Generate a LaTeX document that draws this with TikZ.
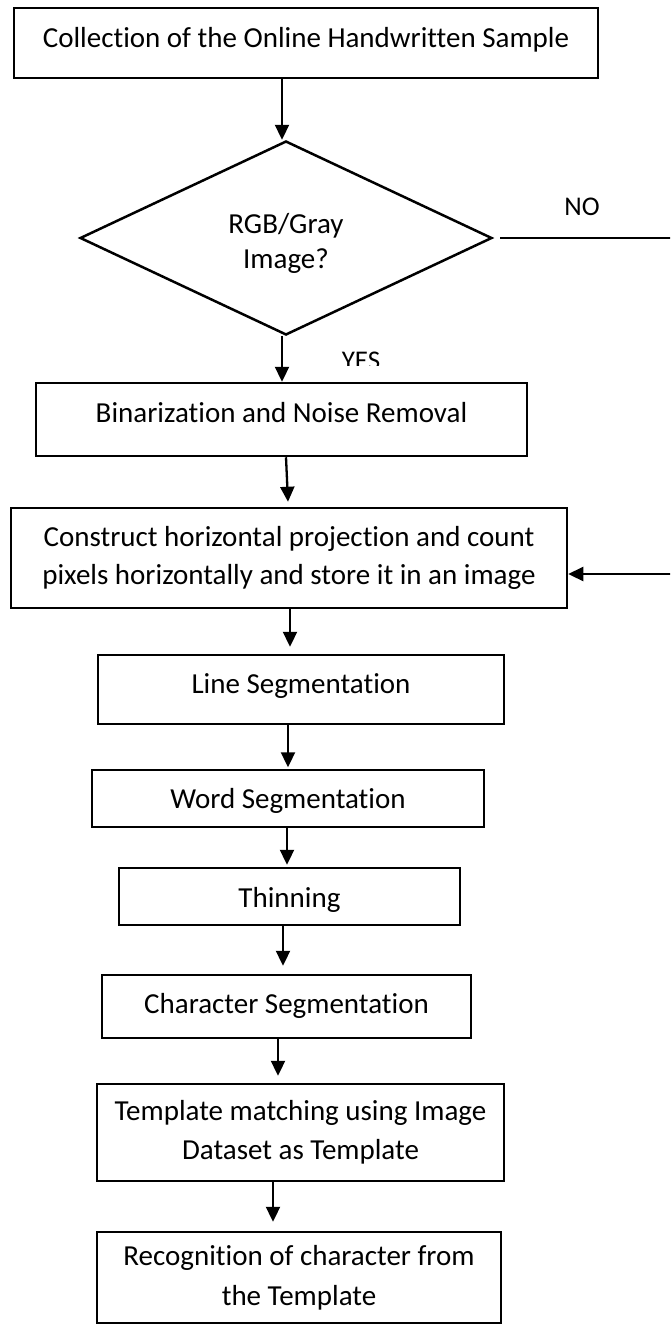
\documentclass[tikz,border=0pt]{standalone}
\usepackage{fontspec}
\setmainfont{Carlito}[Ligatures=NoCommon]
\usetikzlibrary{arrows.meta,shapes.geometric}
\begin{document}
\begin{tikzpicture}[x=1pt,y=-1pt,
  every node/.style={font=\fontsize{29}{38}\selectfont},
  stepbox/.style={draw, line width=2.5pt, rectangle, inner sep=0pt, align=center},
  decision/.style={draw, line width=2.5pt, diamond, inner sep=0pt, align=center,
    font=\fontsize{29}{35}\selectfont},
  flow/.style={line width=2.3pt, -{Triangle[length=15pt,width=14pt]}},
  tag/.style={font=\fontsize{27}{30}\selectfont, inner sep=0pt, anchor=base}]
\useasboundingbox (0,0) rectangle (670,1328);
\fill[white] (0,0) rectangle (670,1328);

% process steps
\node[stepbox, minimum width=584pt, minimum height=70pt, text height=20pt, text depth=12pt]
  (b1) at (306,43) {Collection of the Online Handwritten Sample};
\node[decision, minimum width=412pt, minimum height=194pt]
  (dec) at (286,238) {\rule{0pt}{31pt}RGB/Gray\\Image?};
\node[stepbox, minimum width=491pt, minimum height=73pt, text height=20pt, text depth=15pt]
  (b2) at (281.5,419.5) {Binarization and Noise Removal};
\node[stepbox, minimum width=556pt, minimum height=100pt]
  (b3) at (289,558) {Construct horizontal projection and count\\pixels horizontally and store it in an image};
\node[stepbox, minimum width=406pt, minimum height=69pt, text height=20pt, text depth=13pt]
  (b4) at (301,689.5) {Line Segmentation};
\node[stepbox, minimum width=392pt, minimum height=57pt, text height=20pt, text depth=1pt]
  (b5) at (288,798.5) {Word Segmentation};
\node[stepbox, minimum width=341pt, minimum height=57pt, text height=21pt, text depth=0pt]
  (b6) at (289.5,896.5) {Thinning};
\node[stepbox, minimum width=369pt, minimum height=63pt, text height=20pt, text depth=7pt]
  (b7) at (286.5,1006.5) {Character Segmentation};
\node[stepbox, minimum width=407pt, minimum height=97pt, font=\fontsize{29}{39}\selectfont]
  (b8) at (300.5,1132.5) {Template matching using Image\\Dataset as Template};
\node[stepbox, minimum width=404pt, minimum height=91pt, font=\fontsize{29}{40}\selectfont]
  (b9) at (299,1277.5) {Recognition of character from\\the Template};

% main flow
\draw[flow] ([xshift=-24pt]b1.south) -- ([xshift=-4pt]dec.north);
\draw[flow] ([xshift=-4pt]dec.south) -- ([xshift=0.5pt]b2.north);
\draw[flow] ([xshift=4.5pt]b2.south) -- ([xshift=-1pt,yshift=5pt]b3.north);
\draw[flow] ([xshift=1pt]b3.south) -- ([xshift=-11pt,yshift=7pt]b4.north);
\draw[flow] ([xshift=-13pt]b4.south) -- ([yshift=1.5pt]b5.north);
\draw[flow] ([xshift=-1pt]b5.south) -- ([xshift=-2.5pt,yshift=2pt]b6.north);
\draw[flow] ([xshift=-6.5pt]b6.south) -- ([xshift=-3.5pt,yshift=8pt]b7.north);
\draw[flow] ([xshift=-8.5pt]b7.south) -- ([xshift=-22.5pt,yshift=7pt]b8.north);
\draw[flow] ([xshift=-27.5pt]b8.south) -- ([xshift=-26pt,yshift=9pt]b9.north);

% "no" branch returning to the projection step
\begin{scope}
  \clip (0,0) rectangle (670,1328);
  \draw[flow] ([xshift=7pt]dec.east) -- ++(220,0) |- ([yshift=-16pt]b3.east);
\end{scope}

% branch labels
\node[tag] (no) at (582,215) {NO};
\begin{scope}
  \clip (320,330) rectangle (420,365);
  \node[tag] (yes) at (361,369) {YES};
\end{scope}
\end{tikzpicture}
\end{document}
